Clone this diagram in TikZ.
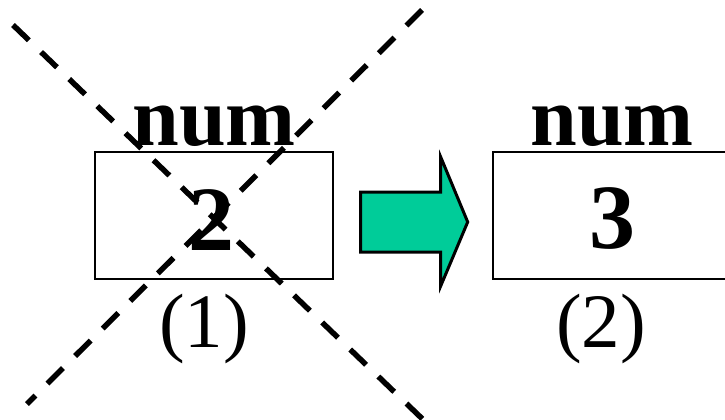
\documentclass[tikz,border=0pt]{standalone}
\usepackage{fontspec}
\setmainfont{Liberation Serif}
\usepackage{xcolor}
\definecolor{ArrowGreen}{HTML}{00CC99}

\tikzset{
  cell/.style={draw=black,line width=2pt,minimum width=238pt,minimum height=127pt,inner sep=0pt},
  varname/.style={anchor=base,inner sep=0pt,font=\fontsize{84}{96}\selectfont\bfseries},
  value/.style={anchor=base,inner sep=0pt,font=\fontsize{92}{100}\selectfont\bfseries},
  tag/.style={anchor=base,inner sep=0pt,font=\fontsize{77}{90}\selectfont},
  crossline/.style={black,line width=5.5pt,dash pattern=on 22pt off 17pt}
}

\begin{document}
\begin{tikzpicture}[x=1pt,y=-1pt]
    \useasboundingbox (0,0) rectangle (725,420);
    % memory cells
    \node[cell] (before) at (214,215) {};
    \node[cell] (after) at (612,215) {};
    \node[varname] (nameA) at (214,145) {num};
    \node[varname] (nameB) at (612,145) {num};
    \node[value] (valA) at (211,250) {2};
    \node[value] (valB) at (612,248) {3};
    \node[tag] (tagA) at (204,347) {(1)};
    \node[tag] (tagB) at (601,347) {(2)};
    % block arrow
    \draw[line width=3pt,fill=ArrowGreen,line join=miter]
      (360.7,192) -- (440.7,192) -- (440.7,157) -- (467.7,222)
      -- (440.7,286) -- (440.7,252) -- (360.7,252) -- cycle;
    % cross over the old value
    \coordinate (crossTL) at (13,25);
    \coordinate (crossBR) at (436,432);
    \coordinate (crossTR) at (422,10);
    \coordinate (crossBL) at (27,404);
    \draw[crossline] (crossTL) -- (crossBR);
    \draw[crossline] (crossTR) -- (crossBL);
  \end{tikzpicture}
\end{document}
